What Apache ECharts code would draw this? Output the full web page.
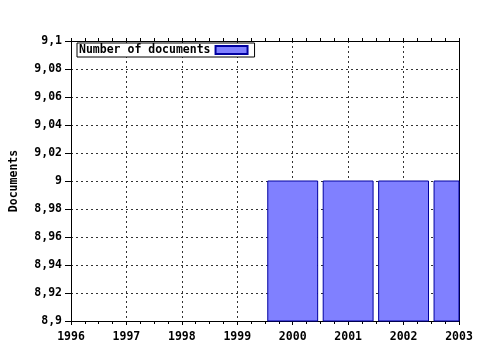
<!DOCTYPE html>
<html><head><meta charset="utf-8">
<script src="https://cdn.jsdelivr.net/npm/echarts@6/dist/echarts.min.js"></script>
<style>html,body{margin:0;padding:0;background:#fff}#c{width:480px;height:350px}</style>
</head><body><div id="c"></div>
<script>
const years = [2000, 2001, 2002, 2003];
const documents = [9, 9, 9, 9];
const seriesName = 'Number of documents';
const yAxisName = 'Documents';
const xMin = 1996, xMax = 2003;
const yMin = 8.9, yMax = 9.1, yStep = 0.02;

const font = {fontFamily: 'DejaVu Sans Mono', fontWeight: 'bold', fontSize: 11.5, color: '#000'};
const chart = echarts.init(document.getElementById('c'), null, {renderer: 'canvas'});
chart.setOption({
  animation: false,
  backgroundColor: '#fff',
  grid: {left: 70, right: 21, top: 41, bottom: 29, containLabel: false},
  legend: {
    left: 77, top: 43, align: 'right', orient: 'horizontal',
    backgroundColor: '#fff', borderColor: '#000', borderWidth: 1, borderRadius: 0,
    padding: [1, 6, 1, 2], itemWidth: 32, itemHeight: 8, itemGap: 8,
    textStyle: Object.assign({}, font, {fontSize: 11.5}),
    data: [{name: seriesName, icon: 'rect'}]
  },
  xAxis: [{
    type: 'value', min: xMin, max: xMax, interval: 1, position: 'bottom',
    axisLine: {show: true, lineStyle: {color: '#000', width: 1}},
    axisTick: {show: true, length: 4, lineStyle: {color: '#000'}},
    minorTick: {show: true, splitNumber: 4, length: 3, lineStyle: {color: '#000'}},
    axisLabel: Object.assign({}, font, {margin: 10, formatter: v => String(v)}),
    splitLine: {show: true, lineStyle: {color: '#333', type: [2, 3], width: 1}}
  }, {
    type: 'value', min: xMin, max: xMax, interval: 1, position: 'top',
    axisLine: {show: true, lineStyle: {color: '#000', width: 1}},
    axisTick: {show: true, length: 3, lineStyle: {color: '#000'}},
    minorTick: {show: true, splitNumber: 4, length: 3, lineStyle: {color: '#000'}},
    axisLabel: {show: false}, splitLine: {show: false}
  }],
  yAxis: [{
    type: 'value', min: yMin, max: yMax, interval: yStep, position: 'left',
    name: yAxisName, nameLocation: 'middle', nameGap: 51, nameRotate: 90,
    nameTextStyle: Object.assign({}, font, {fontSize: 11.5}),
    axisLine: {show: true, lineStyle: {color: '#000', width: 1}},
    axisTick: {show: true, length: 6, lineStyle: {color: '#000'}},
    axisLabel: Object.assign({}, font, {margin: 9, formatter: v => String(+v.toFixed(2)).replace('.', ',')}),
    splitLine: {show: true, lineStyle: {color: '#333', type: [2, 3], width: 1}}
  }, {
    type: 'value', min: yMin, max: yMax, interval: yStep, position: 'right',
    axisLine: {show: true, lineStyle: {color: '#000', width: 1}},
    axisTick: {show: false}, axisLabel: {show: false}, splitLine: {show: false}
  }],
  series: [{
    name: seriesName, type: 'custom', xAxisIndex: 0, yAxisIndex: 0,
    itemStyle: {color: '#8080ff', borderColor: '#0000a0', borderWidth: 1},
    encode: {x: 0, y: 1},
    renderItem: (params, api) => {
      const x = api.value(0), v = api.value(1);
      const top = api.coord([x, v]);
      const base = api.coord([x, 0]);
      const w = api.size([1, 0])[0] * 0.9;
      const cs = params.coordSys;
      const rect = echarts.graphic.clipRectByRect(
        {x: top[0] - w / 2, y: top[1], width: w, height: base[1] - top[1]},
        {x: cs.x, y: cs.y, width: cs.width, height: cs.height});
      return rect ? {type: 'rect', shape: rect, style: api.style()} : null;
    },
    data: years.map((y, i) => [y, documents[i]])
  }]
});
</script></body></html>
